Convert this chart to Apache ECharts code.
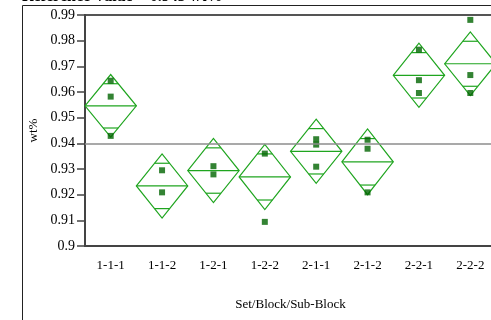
<!DOCTYPE html>
<html>
<head>
<meta charset="utf-8">
<script src="https://cdn.jsdelivr.net/npm/echarts@6/dist/echarts.min.js"></script>
<style>
html, body { margin: 0; padding: 0; background: #fff; }
#main { width: 491px; height: 320px; }
</style>
</head>
<body>
<div id="main"></div>
<script>
// 数据
var categories = ['1-1-1', '1-1-2', '1-2-1', '1-2-2', '2-1-1', '2-1-2', '2-2-1', '2-2-2'];
var observations = [
	[0.9644, 0.9582, 0.9429],
	[0.9295, 0.9209],
	[0.9311, 0.9279],
	[0.9360, 0.9094],
	[0.9416, 0.9395, 0.9309],
	[0.9414, 0.9379, 0.9209],
	[0.9765, 0.9646, 0.9596],
	[0.9881, 0.9666, 0.9596]
];
var groupMeans = [0.9546, 0.9234, 0.9294, 0.9269, 0.9369, 0.9328, 0.9665, 0.9710];
var ciHalfWidths = [0.0122, 0.0125, 0.0125, 0.0127, 0.0125, 0.0128, 0.0125, 0.0124];
var referenceValue = 0.9429;
var yMin = 0.9, yMax = 0.99, yStep = 0.01;

var chart = echarts.init(document.getElementById('main'));
var green = '#1fa51f';
var serif = 'Liberation Serif';

var diamondData = [];
var pointData = [];
for (var i = 0; i < categories.length; i++) {
	diamondData.push([i, groupMeans[i], ciHalfWidths[i]]);
	for (var j = 0; j < observations[i].length; j++) {
		pointData.push([i, observations[i][j]]);
	}
}

function renderDiamond(params, api) {
	var idx = api.value(0), mean = api.value(1), half = api.value(2);
	var c = api.coord([idx, mean]);
	var top = api.coord([idx, mean + half]);
	var bot = api.coord([idx, mean - half]);
	var w = api.size([1, 0])[0] / 2;
	var k = Math.SQRT1_2;
	var oTop = api.coord([idx, mean + half * k]);
	var oBot = api.coord([idx, mean - half * k]);
	var ow = w * (1 - k);
	var st = { fill: 'none', stroke: green, lineWidth: 1.2 };
	return {
		type: 'group',
		children: [
			{ type: 'polygon', shape: { points: [[c[0] - w, c[1]], [c[0], top[1]], [c[0] + w, c[1]], [c[0], bot[1]]] }, style: st },
			{ type: 'line', shape: { x1: c[0] - w, y1: c[1], x2: c[0] + w, y2: c[1] }, style: st },
			{ type: 'line', shape: { x1: c[0] - ow, y1: oTop[1], x2: c[0] + ow, y2: oTop[1] }, style: st },
			{ type: 'line', shape: { x1: c[0] - ow, y1: oBot[1], x2: c[0] + ow, y2: oBot[1] }, style: st }
		]
	};
}

var option = {
	animation: false,
	backgroundColor: '#fff',
	graphic: [
		{ type: 'rect', shape: { x: 22.5, y: 5.5, width: 600, height: 400 }, style: { fill: 'none', stroke: '#222', lineWidth: 1 }, silent: true },
		{ type: 'text', x: 22, y: -3, style: { text: 'Reference Value = 0.943 wt%', font: 'bold 16px "Liberation Serif"', fill: '#000', verticalAlign: 'middle' }, silent: true }
	],
	grid: {
		left: 85,
		top: 15,
		width: 411,
		height: 231,
		outerBoundsMode: 'none',
		containLabel: false,
		show: true,
		borderColor: '#555',
		borderWidth: 2
	},
	xAxis: {
		type: 'category',
		data: categories,
		name: 'Set/Block/Sub-Block',
		nameLocation: 'middle',
		nameGap: 52,
		nameTextStyle: { fontFamily: serif, fontSize: 13, color: '#000' },
		axisLine: { lineStyle: { color: '#444', width: 2 } },
		axisTick: { length: 6, lineStyle: { color: '#444', width: 1.5 } },
		axisLabel: { fontFamily: serif, fontSize: 13, color: '#000', margin: 13 },
		splitLine: { show: false }
	},
	yAxis: {
		type: 'value',
		min: yMin,
		max: yMax,
		interval: yStep,
		name: 'wt%',
		nameLocation: 'middle',
		nameGap: 44,
		nameTextStyle: { fontFamily: serif, fontSize: 13, color: '#000' },
		axisLine: { show: true, lineStyle: { color: '#444', width: 2 } },
		axisTick: { show: true, length: 8, lineStyle: { color: '#444', width: 1.5 } },
		axisLabel: { fontFamily: serif, fontSize: 14, color: '#000', margin: 10 },
		splitLine: { show: false }
	},
	series: [
		{
			type: 'custom',
			renderItem: renderDiamond,
			data: diamondData,
			encode: { x: 0, y: 1 },
			z: 3,
			silent: true,
			markLine: {
				silent: true,
				symbol: 'none',
				label: { show: false },
				lineStyle: { color: '#8c8c8c', width: 1.5, type: 'solid' },
				data: [{ yAxis: referenceValue }]
			}
		},
		{
			type: 'scatter',
			data: pointData,
			symbol: 'rect',
			symbolSize: 6,
			itemStyle: { color: '#006400' },
			z: 4,
			silent: true
		}
	]
};
chart.setOption(option);
</script>
</body>
</html>
